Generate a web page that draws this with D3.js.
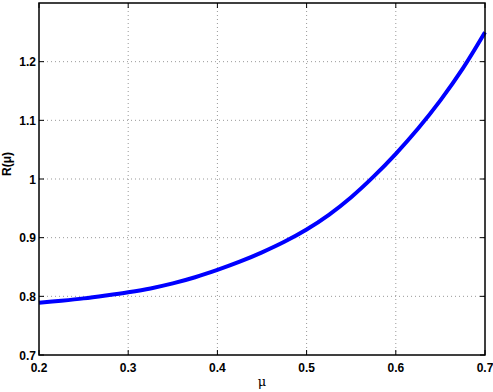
<!DOCTYPE html>
<html><head><meta charset="utf-8">
<script src="https://cdn.jsdelivr.net/npm/d3@7"></script>
<style>body{margin:0;background:#fff}svg{display:block}</style>
</head><body>
<script>
const muValues = [0.2,0.225,0.25,0.275,0.3,0.325,0.35,0.375,0.4,0.425,0.45,0.475,0.5,0.525,0.55,0.575,0.6,0.625,0.65,0.675,0.7];
const rValues  = [0.789,0.7925,0.7965,0.8015,0.807,0.8135,0.822,0.8325,0.845,0.859,0.875,0.893,0.914,0.939,0.969,1.004,1.043,1.086,1.134,1.188,1.250];
const xTicks = [0.2,0.3,0.4,0.5,0.6,0.7];
const yTicks = [0.7,0.8,0.9,1.0,1.1,1.2];
const xTickLabels = ["0.2","0.3","0.4","0.5","0.6","0.7"];
const yTickLabels = ["0.7","0.8","0.9","1","1.1","1.2"];

const W=493,H=392, L=39, R=485, T=3, B=355;
const svg=d3.select("body").append("svg").attr("width",W).attr("height",H);
const x=d3.scaleLinear().domain([0.2,0.7]).range([L,R]);
const y=d3.scaleLinear().domain([0.7,1.3]).range([B,T]);
const font="Helvetica, Arial, 'Liberation Sans', sans-serif";

// grid
const g=svg.append("g");
g.selectAll(".gx").data(xTicks.slice(1,-1)).enter().append("line")
 .attr("x1",d=>x(d)).attr("x2",d=>x(d)).attr("y1",T).attr("y2",B)
 .attr("stroke","#999").attr("stroke-width",1).attr("stroke-dasharray","1,3");
g.selectAll(".gy").data(yTicks.slice(1)).enter().append("line")
 .attr("x1",L).attr("x2",R).attr("y1",d=>y(d)).attr("y2",d=>y(d))
 .attr("stroke","#999").attr("stroke-width",1).attr("stroke-dasharray","1,3");

// ticks inward on all sides
const tk=svg.append("g").attr("stroke","#000").attr("stroke-width",1);
xTicks.forEach(d=>{
  tk.append("line").attr("x1",x(d)).attr("x2",x(d)).attr("y1",B).attr("y2",B-5);
  tk.append("line").attr("x1",x(d)).attr("x2",x(d)).attr("y1",T).attr("y2",T+5);
});
yTicks.forEach(d=>{
  tk.append("line").attr("x1",L).attr("x2",L+5).attr("y1",y(d)).attr("y2",y(d));
  tk.append("line").attr("x1",R).attr("x2",R-5).attr("y1",y(d)).attr("y2",y(d));
});

// curve
const line=d3.line().x((d,i)=>x(muValues[i])).y(d=>y(d)).curve(d3.curveCatmullRom);
svg.append("path").datum(rValues).attr("d",line).attr("fill","none")
 .attr("stroke","#0000ff").attr("stroke-width",4);

// box
svg.append("rect").attr("x",L).attr("y",T).attr("width",R-L).attr("height",B-T)
 .attr("fill","none").attr("stroke","#000").attr("stroke-width",1.5);

// labels
svg.selectAll(".xl").data(xTicks).enter().append("text")
 .attr("x",d=>x(d)).attr("y",B+17).attr("text-anchor","middle")
 .attr("font-family",font).attr("font-weight","bold").attr("font-size",12)
 .text((d,i)=>xTickLabels[i]);
svg.selectAll(".yl").data(yTicks).enter().append("text")
 .attr("x",L-3).attr("y",d=>y(d)+4.5).attr("text-anchor","end")
 .attr("font-family",font).attr("font-weight","bold").attr("font-size",12)
 .text((d,i)=>yTickLabels[i]);

svg.append("text").attr("x",(L+R)/2).attr("y",386).attr("text-anchor","middle")
 .attr("font-family","'DejaVu Serif', serif").attr("font-size",13).text("μ");
svg.append("text").attr("transform","translate(11,164) rotate(-90)").attr("text-anchor","middle")
 .attr("font-family",font).attr("font-weight","bold").attr("font-size",12).text("R(μ)");
</script>
</body></html>
